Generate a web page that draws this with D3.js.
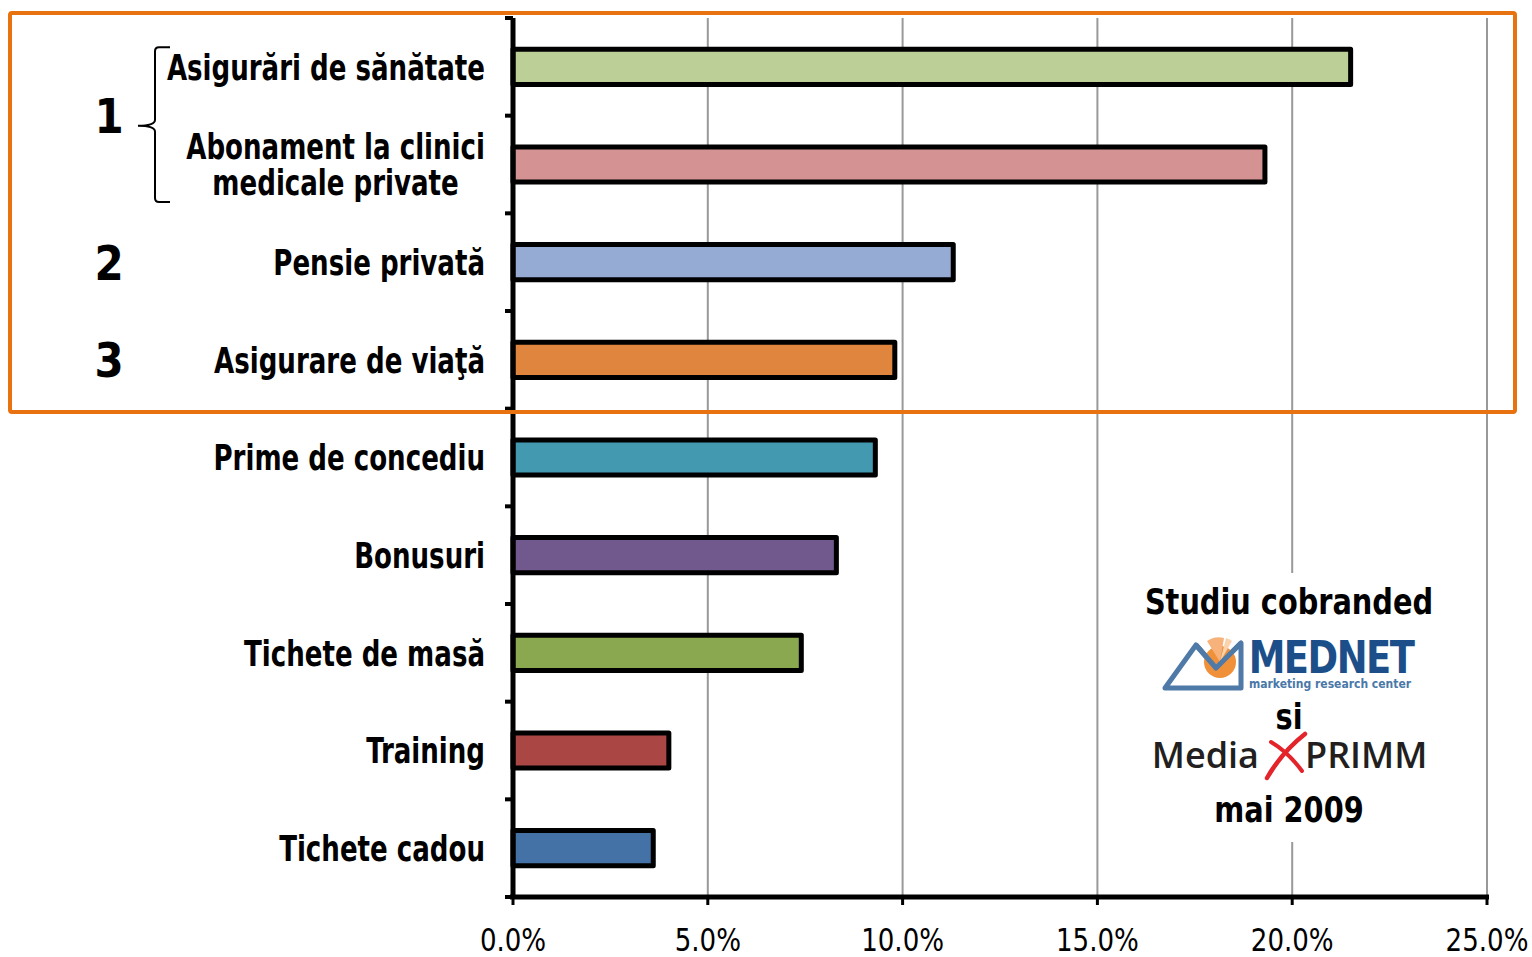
<!DOCTYPE html>
<html>
<head>
<meta charset="utf-8">
<script src="https://cdn.jsdelivr.net/npm/d3@7"></script>
<style>
  html, body { margin: 0; padding: 0; background: #fff; }
  svg { display: block; }
</style>
</head>
<body>
<svg id="chart" width="1532" height="957"></svg>
<script>
// ---- data ----
const categories = [
  "Asigurări de sănătate",
  "Abonament la clinici\nmedicale private",
  "Pensie privată",
  "Asigurare de viaţă",
  "Prime de concediu",
  "Bonusuri",
  "Tichete de masă",
  "Training",
  "Tichete cadou"
];
const values = [21.5, 19.3, 11.3, 9.8, 9.3, 8.3, 7.4, 4.0, 3.6];
const barColors = ["#BBCF97", "#D49292", "#95ABD3", "#E0853E", "#4299B0", "#72598D", "#8AA84F", "#AA4644", "#4472A7"];
const xTicks = [0, 5, 10, 15, 20, 25];
const rankLabels = ["1", "2", "3"];
const rankGroups = [[0, 1], [2, 2], [3, 3]];
const noteLines = ["Studiu cobranded", "si", "mai 2009"];

// ---- layout ----
const svg = d3.select("#chart");
const x0 = 513, x1 = 1487, yTop = 18, yBot = 897;
const x = d3.scaleLinear().domain([0, 25]).range([x0, x1]);
const y = d3.scaleBand().domain(d3.range(categories.length)).range([yTop, yBot])
  .paddingInner(0.64).paddingOuter(0.32);
const step = y.step();

const labelFont = "'DejaVu Sans Condensed', 'DejaVu Sans', sans-serif";

// gridlines
svg.append("g").selectAll("line").data(xTicks.slice(1)).join("line")
  .attr("x1", d => x(d)).attr("x2", d => x(d))
  .attr("y1", yTop).attr("y2", yBot)
  .attr("stroke", "#999").attr("stroke-width", 2);

// white box behind note (covers gridlines)
svg.append("rect").attr("x", 1099).attr("y", 573).attr("width", 384).attr("height", 269).attr("fill", "#fff");

// bars
svg.append("g").selectAll("rect").data(values).join("rect")
  .attr("x", x(0))
  .attr("y", (d, i) => y(i))
  .attr("width", d => x(d) - x(0))
  .attr("height", y.bandwidth())
  .attr("fill", (d, i) => barColors[i])
  .attr("stroke", "#000").attr("stroke-width", 5)
  .attr("stroke-linejoin", "round");

// y axis ticks at band boundaries
const yTickPos = d3.range(categories.length + 1).map(i => yTop + i * step);
svg.append("g").selectAll("line").data(yTickPos).join("line")
  .attr("x1", x0 - 8).attr("x2", x0).attr("y1", d => d).attr("y2", d => d)
  .attr("stroke", "#000").attr("stroke-width", 4);

// x axis ticks
svg.append("g").selectAll("line").data(xTicks).join("line")
  .attr("x1", d => x(d)).attr("x2", d => x(d)).attr("y1", yBot).attr("y2", yBot + 8)
  .attr("stroke", "#000").attr("stroke-width", 3);

// axis lines
svg.append("line").attr("x1", x0).attr("x2", x0).attr("y1", yTop).attr("y2", yBot + 2)
  .attr("stroke", "#000").attr("stroke-width", 5);
svg.append("line").attr("x1", x0 - 3).attr("x2", x1 + 2).attr("y1", yBot).attr("y2", yBot)
  .attr("stroke", "#000").attr("stroke-width", 5);

// x tick labels
svg.append("g").selectAll("text").data(xTicks).join("text")
  .attr("transform", d => `translate(${x(d)},951) scale(1,1.1)`)
  .attr("text-anchor", "middle")
  .attr("font-family", labelFont).attr("font-size", 29).attr("fill", "#000")
  .text(d => d.toFixed(1) + "%");

// category labels
const lblRight = 485, lineGap = 36, sy = 1.22;
categories.forEach((c, i) => {
  const lines = c.split("\n");
  const cy = y(i) + y.bandwidth() / 2;
  const g = svg.append("g");
  const texts = lines.map((ln, k) => g.append("text")
    .attr("font-family", labelFont).attr("font-weight", "bold").attr("font-size", 29)
    .attr("fill", "#000").text(ln));
  if (lines.length === 1) {
    texts[0].attr("text-anchor", "end")
      .attr("transform", `translate(${lblRight},${cy}) scale(1,${sy})`)
      .attr("dy", "0.36em");
  } else {
    const maxW = d3.max(texts, t => t.node().getComputedTextLength());
    const cx = lblRight - maxW / 2;
    texts.forEach((t, k) => {
      const ly = cy + (k - (lines.length - 1) / 2) * lineGap;
      t.attr("text-anchor", "middle")
        .attr("transform", `translate(${cx},${ly}) scale(1,${sy})`)
        .attr("dy", "0.36em");
    });
  }
});

// rank numbers
rankGroups.forEach((gr, k) => {
  const top = y(gr[0]), bot = y(gr[1]) + y.bandwidth();
  const cy = (top + bot) / 2;
  svg.append("text")
    .attr("transform", `translate(109,${cy}) scale(1,1.15)`)
    .attr("text-anchor", "middle").attr("dy", "0.36em")
    .attr("font-family", "'DejaVu Sans', sans-serif").attr("font-weight", "bold").attr("font-size", 42)
    .attr("fill", "#000").text(rankLabels[k]);
});

// brace for group 1
{
  const top = y(0) - 2, bot = y(1) + y.bandwidth() + 20, mid = (top + bot) / 2 + 1;
  const xr = 170, xv = 155, xp = 138;
  const p = d3.path();
  p.moveTo(xr, top);
  p.lineTo(xv + 4, top);
  p.quadraticCurveTo(xv, top, xv, top + 4);
  p.lineTo(xv, mid - 6);
  p.quadraticCurveTo(xv, mid, xp, mid);
  p.quadraticCurveTo(xv, mid, xv, mid + 6);
  p.lineTo(xv, bot - 4);
  p.quadraticCurveTo(xv, bot, xv + 4, bot);
  p.lineTo(xr, bot);
  svg.append("path").attr("d", p.toString()).attr("fill", "none")
    .attr("stroke", "#000").attr("stroke-width", 2);
}

// orange highlight box
svg.append("rect").attr("x", 10).attr("y", 13).attr("width", 1505).attr("height", 399)
  .attr("fill", "none").attr("stroke", "#E8720F").attr("stroke-width", 4).attr("rx", 2);

// ---- note block ----
const nx = 1289;
const note = svg.append("g");
note.append("text").attr("transform", `translate(${nx},614) scale(1,1.1)`)
  .attr("text-anchor", "middle").attr("font-family", labelFont).attr("font-weight", "bold")
  .attr("font-size", 32).attr("fill", "#000").text(noteLines[0]);
note.append("text").attr("transform", `translate(${nx},729) scale(1,1.1)`)
  .attr("text-anchor", "middle").attr("font-family", labelFont).attr("font-weight", "bold")
  .attr("font-size", 32).attr("fill", "#000").text(noteLines[1]);
note.append("text").attr("transform", `translate(${nx},822) scale(1,1.1)`)
  .attr("text-anchor", "middle").attr("font-family", labelFont).attr("font-weight", "bold")
  .attr("font-size", 32).attr("fill", "#000").text(noteLines[2]);

// MEDNET logo
const logo = note.append("g");
logo.append("path")
  .attr("d", "M1165,688 L1196,645 L1216,668 L1241,643 L1241,688 Z")
  .attr("fill", "none").attr("stroke", "#4f79a6").attr("stroke-width", 5).attr("stroke-linejoin", "round");
logo.append("circle").attr("cx", 1220).attr("cy", 662).attr("r", 16).attr("fill", "#F0913A");
logo.append("path").attr("d", "M1220,662 L1207,641 A20,20 0 0,1 1224,638 Z").attr("fill", "#F6B27A");
logo.append("path").attr("d", "M1220,662 L1226,638 A20,20 0 0,1 1232,641 Z").attr("fill", "#F9D2AE");
logo.append("path")
  .attr("d", "M1196,645 L1216,668 L1241,643")
  .attr("fill", "none").attr("stroke", "#4f79a6").attr("stroke-width", 5).attr("stroke-linejoin", "round");
logo.append("text").attr("transform", "translate(1331,673) scale(1,1.08)")
  .attr("text-anchor", "middle").attr("font-family", labelFont).attr("font-weight", "bold")
  .attr("font-size", 41).attr("fill", "#1C4F8A").attr("letter-spacing", -1.5).text("MEDNET");
logo.append("text").attr("x", 1330).attr("y", 688)
  .attr("text-anchor", "middle").attr("font-family", "'DejaVu Sans Condensed', sans-serif").attr("font-weight", "bold")
  .attr("font-size", 12).attr("fill", "#4a78a8").text("marketing research center");

// Media X PRIMM
note.append("text").attr("x", 1259).attr("y", 768).attr("text-anchor", "end")
  .attr("font-family", "'Open Sans', sans-serif").attr("font-weight", 600).attr("font-size", 36).attr("fill", "#231f20").text("Media");
note.append("text").attr("x", 1305).attr("y", 768).attr("text-anchor", "start")
  .attr("font-family", "'Open Sans', sans-serif").attr("font-weight", 600).attr("font-size", 36).attr("fill", "#231f20").text("PRIMM");
note.append("path").attr("d", "M1267,778 Q1282,752 1305,734")
  .attr("fill", "none").attr("stroke", "#E3242B").attr("stroke-width", 4.5).attr("stroke-linecap", "round");
note.append("path").attr("d", "M1271,742 Q1288,752 1302,771")
  .attr("fill", "none").attr("stroke", "#E3242B").attr("stroke-width", 4).attr("stroke-linecap", "round");
</script>
</body>
</html>
